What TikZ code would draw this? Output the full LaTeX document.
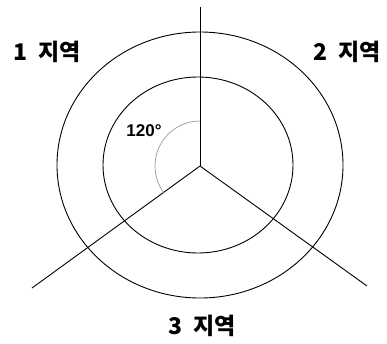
\documentclass[tikz,border=0pt]{standalone}
\usepackage{fontspec}
\setmainfont{Liberation Sans}
\newfontfamily\krfont{Noto Sans CJK KR}
\usepackage{tikz}
\usetikzlibrary{calc}
\tikzset{
  ringline/.style={draw=black,line width=0.9pt},
  spokeline/.style={draw=black,line width=0.9pt},
  anglearc/.style={draw=gray!80,line width=0.7pt},
  zonelabel/.style={font=\krfont\bfseries\fontsize{23}{23}\selectfont,inner sep=0pt},
  anglelabel/.style={font=\bfseries\fontsize{17}{17}\selectfont,inner sep=0pt}
}
\begin{document}
\begin{tikzpicture}[x=1pt,y=1pt]
  \useasboundingbox (0,0) rectangle (387,343);
  \coordinate (o) at (200,177);
  \coordinate (top) at (200,336);
  \coordinate (lft) at (32,55);
  \coordinate (rgt) at (367,57);
  % rings
  \draw[ringline] (200,178) ellipse [x radius=143, y radius=133];
  \draw[ringline] (198,178) ellipse [x radius=95, y radius=88];
  % spokes
  \draw[spokeline] (o) -- (top);
  \draw[spokeline] (o) -- (lft);
  \draw[spokeline] (o) -- (rgt);
  \draw[anglearc] ($(o)!45pt!(top)$) arc[start angle=90, end angle=216, radius=45];
  \node[anglelabel] (ang) at (144,212) {120°};
  \node[zonelabel] (z1) at (47,291) {1\hspace{0.25em} 지역};
  \node[zonelabel] (z2) at (347,291) {2\hspace{0.25em} 지역};
  \node[zonelabel] (z3) at (202,17) {3\hspace{0.25em} 지역};
\end{tikzpicture}
\end{document}
